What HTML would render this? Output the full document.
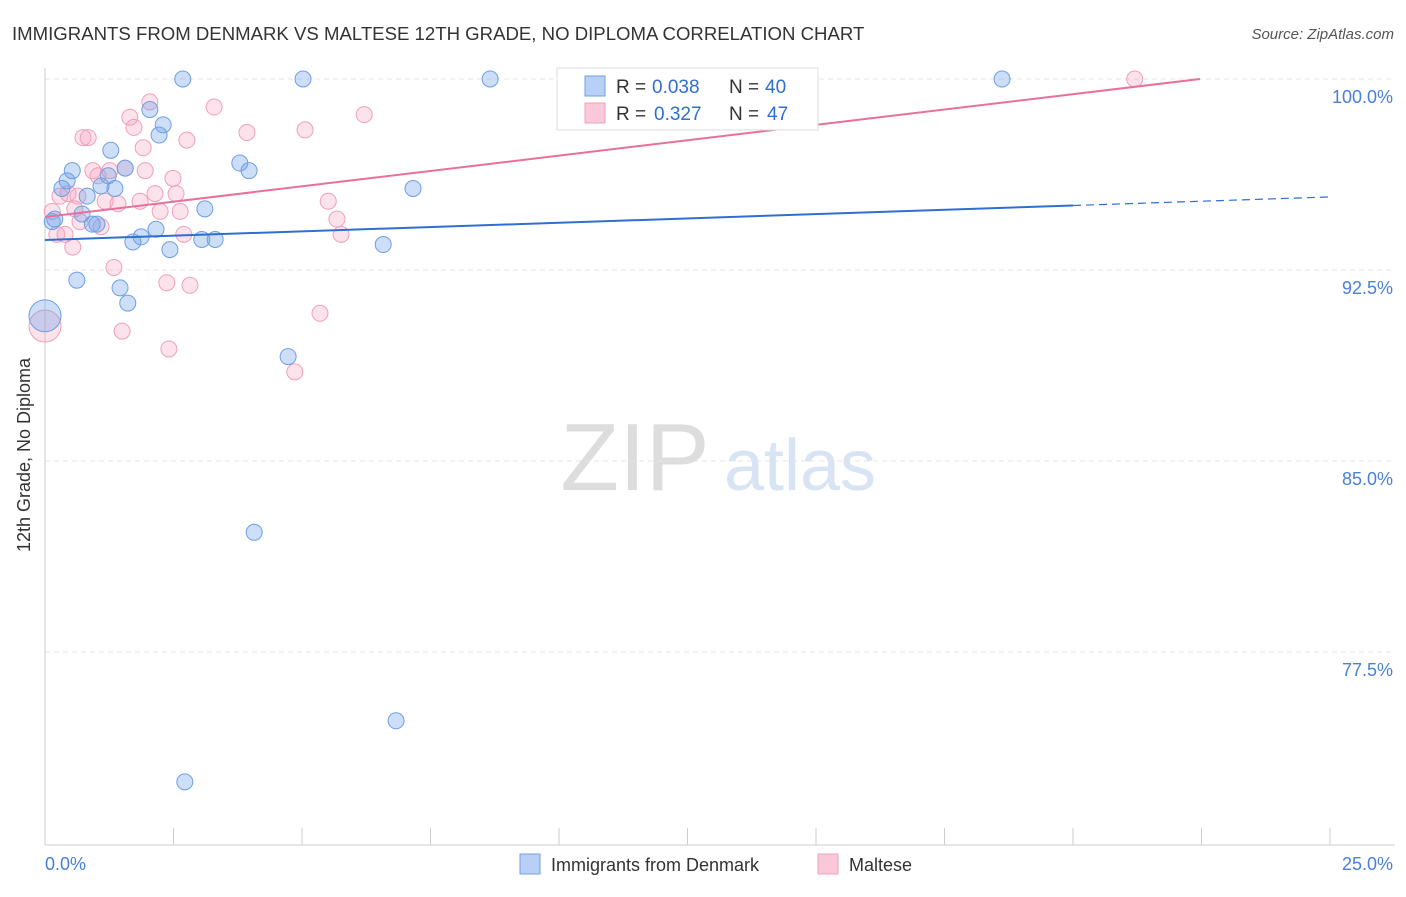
<!DOCTYPE html>
<html><head><meta charset="utf-8"><style>
body{margin:0;background:#fff;font-family:"Liberation Sans",sans-serif}
svg text{font-family:"Liberation Sans",sans-serif}
</style></head><body>
<svg id="c" width="1406" height="892">
<text x="12" y="40" font-size="18.6" fill="#333">IMMIGRANTS FROM DENMARK VS MALTESE 12TH GRADE, NO DIPLOMA CORRELATION CHART</text>
<text x="1394" y="39" font-size="15" fill="#555" font-style="italic" text-anchor="end">Source: ZipAtlas.com</text>
<text x="30" y="455" font-size="18" fill="#333" transform="rotate(-90 30 455)" text-anchor="middle">12th Grade, No Diploma</text>
<g><text x="635" y="490" font-size="96" fill="#ddd" font-family="Liberation Serif" text-anchor="middle">ZIP</text><text x="800" y="490" font-size="72" fill="#d8e4f4" text-anchor="middle">atlas</text></g>
<g id="grid"></g><g id="marks"></g>
<g>
<rect x="557" y="68" width="261" height="62" fill="#fff" stroke="#ddd"/>
<rect x="585" y="76" width="20" height="20" fill="#b8d0f5" stroke="#6f9fe0"/>
<rect x="585" y="103" width="20" height="20" fill="#fac8d8" stroke="#f0a0b8"/>
<text x="616" y="93" font-size="19" fill="#333">R =</text><text x="652" y="93" font-size="19" fill="#2f6fd0">0.038</text>
<text x="729" y="93" font-size="19" fill="#333">N =</text><text x="765" y="93" font-size="19" fill="#2f6fd0">40</text>
<text x="616" y="120" font-size="19" fill="#333">R =</text><text x="654" y="120" font-size="19" fill="#2f6fd0">0.327</text>
<text x="729" y="120" font-size="19" fill="#333">N =</text><text x="767" y="120" font-size="19" fill="#2f6fd0">47</text>
</g>
<g>
<rect x="520" y="854" width="20" height="20" fill="#b8d0f5" stroke="#6f9fe0"/>
<text x="551" y="871" font-size="18" fill="#333">Immigrants from Denmark</text>
<rect x="818" y="854" width="20" height="20" fill="#fac8d8" stroke="#f0a0b8"/>
<text x="849" y="871" font-size="18" fill="#333">Maltese</text>
</g>
</svg>
<script>
const blueX=[0,0.14,0.19,0.33,0.43,0.53,0.62,0.72,0.82,0.92,1.01,1.09,1.23,1.28,1.36,1.46,1.56,1.61,1.71,1.87,2.04,2.16,2.22,2.3,2.43,2.68,3.05,3.11,3.31,3.79,3.97,4.07,4.73,5.02,6.58,6.83,7.16,8.66,18.62,2.72];
const blueY=[90.7,94.4,94.5,95.7,96.0,96.4,92.1,94.7,95.4,94.3,94.3,95.8,96.2,97.2,95.7,91.8,96.5,91.2,93.6,93.8,98.8,94.1,97.8,98.2,93.3,100,93.7,94.9,93.7,96.7,96.4,82.2,89.1,100,93.5,74.8,95.7,100,100,72.4];
const pinkX=[0,0.14,0.23,0.29,0.45,0.54,0.64,0.68,0.74,0.84,0.93,1.03,1.09,1.17,1.26,1.34,1.42,1.5,1.56,1.65,1.73,1.85,1.91,1.95,2.04,2.24,2.37,2.41,2.49,2.55,2.63,2.7,2.76,2.82,3.29,3.93,4.86,5.06,5.35,5.51,5.68,5.76,6.21,21.2,0.58,0.39,2.14];
const pinkY=[90.3,94.8,93.9,95.4,95.5,93.4,95.4,94.4,97.7,97.7,96.4,96.2,94.2,95.2,96.4,92.6,95.1,90.1,96.5,98.5,98.1,95.2,97.3,96.4,99.1,94.8,92.0,89.4,96.1,95.5,94.8,93.9,97.6,91.9,98.9,97.9,88.5,98.0,90.8,95.2,94.5,93.9,98.6,100,94.9,93.9,95.5];
const yTicks=[100,92.5,85,77.5];
const yTickLabels=["100.0%","92.5%","85.0%","77.5%"];
const blueTrend=[93.68,95.37];const pinkTrend=[94.58,100.61];
const X=v=>45+v/25*1285, Y=v=>79+(100-v)*191/7.5;
const NS="http://www.w3.org/2000/svg";
function mk(t,a,p){const e=document.createElementNS(NS,t);for(const k in a)e.setAttribute(k,a[k]);p.appendChild(e);return e;}
const g=document.getElementById('grid'),m=document.getElementById('marks');
yTicks.forEach((t,i)=>{const l=mk('line',{x1:45,x2:1395,y1:Y(t),y2:Y(t),stroke:'#e4e4e4','stroke-dasharray':'5,4'},g);


const tx=mk('text',{x:1393,y:Y(t)+24,'font-size':18,fill:'#4a80d8','text-anchor':'end'},g);tx.textContent=yTickLabels[i];

});
const ax=mk('line',{x1:45,x2:45,y1:68,y2:845,stroke:'#ccc'},g);


const bx=mk('line',{x1:45,x2:1395,y1:845,y2:845,stroke:'#ccc'},g);


for(let i=0;i<=10;i++){const tk=mk('line',{x1:X(i*2.5),x2:X(i*2.5),y1:828,y2:845,stroke:'#ccc'},g);

}
[["0.0%",45,"start"],["25.0%",1393,"end"]].forEach(a=>{const t=mk('text',{x:a[1],y:870,'font-size':18,fill:'#4a80d8','text-anchor':a[2]},g);t.textContent=a[0];

});
function pts(xs,ys,fill,stroke,name){xs.forEach((x,i)=>{const c=mk('circle',{cx:X(x),cy:Y(ys[i]),r:i==0?16:8,fill:fill,stroke:stroke,'stroke-width':1},m);

});}
pts(pinkX,pinkY,'rgba(245,160,190,0.3)','#f0a0b8','maltese-point');
pts(blueX,blueY,'rgba(110,160,235,0.35)','#6f9fe0','denmark-point');
const bt=v=>blueTrend[0]+(blueTrend[1]-blueTrend[0])*v/25;
const l1=mk('line',{x1:X(0),y1:Y(bt(0)),x2:X(20),y2:Y(bt(20)),stroke:'#2f6fd0','stroke-width':2},m);


const l2=mk('line',{x1:X(20),y1:Y(bt(20)),x2:X(25),y2:Y(bt(25)),stroke:'#2f6fd0','stroke-width':1.2,'stroke-dasharray':'8,5'},m);


const xe=(100-pinkTrend[0])/(pinkTrend[1]-pinkTrend[0])*25;
const pt=v=>pinkTrend[0]+(pinkTrend[1]-pinkTrend[0])*v/25;
const l3=mk('line',{x1:X(0),y1:Y(pt(0)),x2:X(xe),y2:Y(100),stroke:'#e8709a','stroke-width':2},m);


</script>
</body></html>
